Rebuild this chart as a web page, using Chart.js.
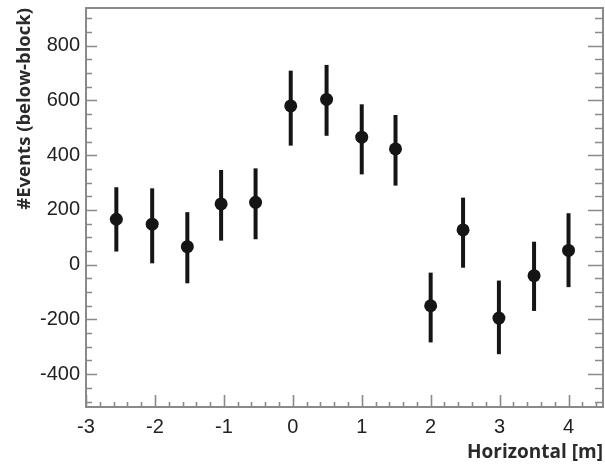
<!DOCTYPE html>
<html>
<head>
<meta charset="utf-8">
<script src="https://cdn.jsdelivr.net/npm/chart.js@4/dist/chart.umd.min.js"></script>
<style>
html,body{margin:0;padding:0;background:#fff;}
#wrap{width:605px;height:468px;position:relative;}
</style>
</head>
<body>
<div id="wrap"><canvas id="c" width="605" height="468"></canvas></div>
<script>
// Data
const xPos   = [-2.56, -2.04, -1.53, -1.04, -0.54, -0.03, 0.49, 1.00, 1.49, 2.00, 2.47, 2.99, 3.50, 4.00];
const yVal   = [166, 148, 66, 222, 228, 580, 604, 466, 423, -150, 127, -195, -40, 52];
const yHigh  = [283, 279, 192, 346, 352, 709, 730, 586, 547, -29, 245, -58, 84, 188];
const yLow   = [48, 5, -68, 88, 93, 435, 471, 330, 289, -284, -11, -327, -169, -82];
const xTicks = [-3, -2, -1, 0, 1, 2, 3, 4];
const yTicks = [-400, -200, 0, 200, 400, 600, 800];
const xTitle = 'Horizontal [m]';
const yTitle = '#Events (below-block)';

const frameColor = '#8a8a8a';
const markColor = '#151515';

const framePlugin = {
  id: 'frame',
  beforeDatasetsDraw(chart) {
    const {ctx, scales: {x, y}} = chart;
    ctx.save();
    ctx.strokeStyle = markColor;
    ctx.lineWidth = 4;
    ctx.lineCap = 'butt';
    for (let i = 0; i < xPos.length; i++) {
      const px = x.getPixelForValue(xPos[i]);
      ctx.beginPath();
      ctx.moveTo(px, y.getPixelForValue(yLow[i]));
      ctx.lineTo(px, y.getPixelForValue(yHigh[i]));
      ctx.stroke();
    }
    ctx.restore();
  },
  afterDraw(chart) {
    const {ctx, chartArea: a, scales: {x, y}} = chart;
    ctx.save();
    ctx.strokeStyle = frameColor;
    ctx.lineWidth = 2;
    ctx.strokeRect(a.left, a.top, a.right - a.left, a.bottom - a.top);
    ctx.lineWidth = 1.6;
    for (let v = Math.ceil(y.min / 50) * 50; v <= y.max; v += 50) {
      const py = Math.round(y.getPixelForValue(v)) + 0.5;
      const major = (v % 200 === 0);
      const lenL = major ? 11 : 6;
      const lenR = major ? 15 : 8;
      ctx.beginPath();
      ctx.moveTo(a.left, py); ctx.lineTo(a.left + lenL, py);
      ctx.moveTo(a.right, py); ctx.lineTo(a.right - lenR, py);
      ctx.stroke();
    }
    for (let k = Math.ceil(x.min * 5); k <= x.max * 5; k++) {
      const v = k / 5;
      const px = Math.round(x.getPixelForValue(v)) + 0.5;
      const major = (k % 5 === 0);
      const len = major ? 12 : 5;
      ctx.beginPath();
      ctx.moveTo(px, a.bottom); ctx.lineTo(px, a.bottom - len);
      ctx.stroke();
    }
    ctx.restore();
  }
};

new Chart(document.getElementById('c'), {
  type: 'scatter',
  data: {
    datasets: [{
      data: xPos.map((v, i) => ({x: v, y: yVal[i]})),
      backgroundColor: markColor,
      borderColor: markColor,
      pointRadius: 6.5,
      pointHoverRadius: 6.5,
      borderWidth: 0
    }]
  },
  options: {
    responsive: false,
    animation: false,
    events: [],
    layout: {autoPadding: false, padding: {top: 8, right: 2, left: 0, bottom: 0}},
    plugins: {legend: {display: false}, tooltip: {enabled: false}},
    scales: {
      x: {
        type: 'linear',
        min: -3, max: 4.5,
        afterBuildTicks: s => { s.ticks = xTicks.map(v => ({value: v})); },
        afterFit: s => { s.height = 61; s.paddingLeft = 0; s.paddingRight = 0; },
        grid: {display: false, drawTicks: false},
        border: {display: false},
        ticks: {
          padding: 8,
          color: '#222',
          font: {family: 'Liberation Sans', size: 20},
          callback: v => String(v),
          maxRotation: 0
        },
        title: {
          display: true, text: xTitle, align: 'end',
          color: '#2a2a2a',
          font: {family: 'Open Sans', size: 19, weight: '700'},
          padding: {top: 0, bottom: 4}
        }
      },
      y: {
        type: 'linear',
        min: -520, max: 938,
        afterBuildTicks: s => { s.ticks = yTicks.map(v => ({value: v})); },
        afterFit: s => { s.width = 86; s.paddingTop = 0; s.paddingBottom = 0; },
        grid: {display: false, drawTicks: false},
        border: {display: false},
        ticks: {
          padding: 6,
          color: '#222',
          font: {family: 'Liberation Sans', size: 20},
          callback: v => String(v)
        },
        title: {
          display: true, text: yTitle, align: 'end',
          color: '#2a2a2a',
          font: {family: 'Open Sans', size: 18.5, weight: '700'},
          padding: {top: 14, bottom: 0}
        }
      }
    }
  },
  plugins: [framePlugin]
});
</script>
</body>
</html>
